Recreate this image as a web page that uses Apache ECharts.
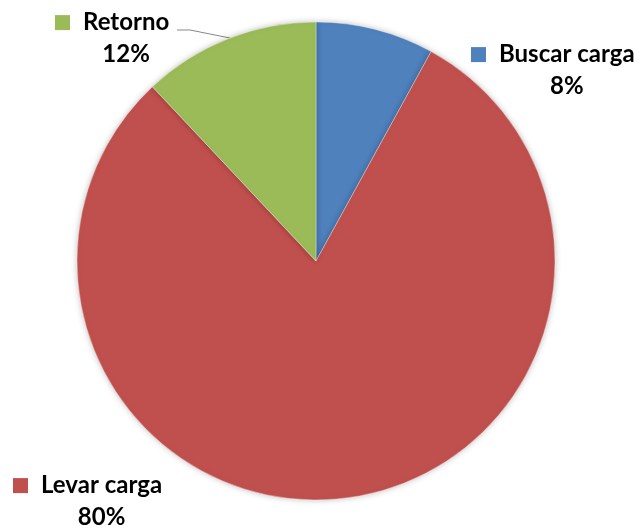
<!DOCTYPE html>
<html>
<head>
<meta charset="utf-8">
<script src="https://cdn.jsdelivr.net/npm/echarts@6/dist/echarts.min.js"></script>
<style>html,body{margin:0;padding:0;background:#fff;}#c{width:642px;height:528px;}</style>
</head>
<body>
<div id="c"></div>
<script>
const categories = ['Buscar carga', 'Levar carga', 'Retorno'];
const values = [8, 80, 12];
const colors = ['#4F81BD', '#C0504D', '#9BBB59'];

const labelPos = [
  { x: 471, y: 38.6 },
  { x: 13, y: 469.6 },
  { x: 55, y: 6.6 }
];

const chart = echarts.init(document.getElementById('c'));
const FONT = 'Lato';
function rich(color) {
  return {
    m: { width: 15, height: 15, backgroundColor: color },
    g: { width: 13 },
    s2: { width: 28 },
    n: { fontFamily: FONT, fontWeight: 'bold', fontSize: 24, color: '#000', lineHeight: 32 },
    p: { fontFamily: FONT, fontWeight: 'bold', fontSize: 24, color: '#000', lineHeight: 32, align: 'center' }
  };
}
const data = categories.map((c, i) => ({
  name: c,
  value: values[i],
  itemStyle: { color: colors[i] },
  label: { rich: rich(colors[i]) },
  labelLine: { show: i === 2 }
}));

chart.setOption({
  animation: false,
  series: [{
    type: 'pie',
    center: [316, 261],
    radius: [0, 239],
    startAngle: 90,
    clockwise: true,
    avoidLabelOverlap: false,
    data: data,
    itemStyle: { borderColor: 'rgba(255,255,255,0.6)', borderWidth: 0.6, shadowBlur: 6, shadowColor: 'rgba(0,0,0,0.25)' },
    label: {
      show: true,
      position: 'outside',
      formatter: p => '{m|}{g|}{n|' + p.name + '}\n{s2|}{p|' + Math.round(p.percent) + '%}'
    },
    labelLine: { show: true, lineStyle: { color: '#888', width: 1 } },
    labelLayout: function (params) {
      const i = params.dataIndex;
      const r = { x: labelPos[i].x, y: labelPos[i].y, align: 'left', verticalAlign: 'top' };
      if (i === 2) {
        r.labelLinePoints = [[177, 30], [190, 30], [230, 38]];
      }
      return r;
    }
  }]
});
</script>
</body>
</html>
